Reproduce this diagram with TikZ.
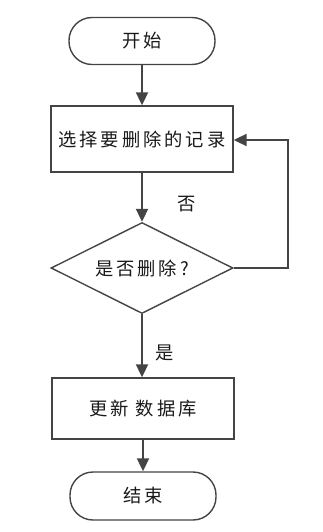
\documentclass[tikz,border=0pt]{standalone}
\usepackage{fontspec}
\usetikzlibrary{arrows.meta,shapes.geometric}
\newfontfamily\cjk[LetterSpace=16]{Noto Sans CJK SC}
\definecolor{lc}{HTML}{444444}
\begin{document}
\begin{tikzpicture}[x=1pt,y=-1pt,
  box/.style={draw=lc,line width=1.4pt,minimum width=182pt,minimum height=65pt,inner sep=0pt},
  term/.style={draw=lc,line width=1.4pt,rounded corners=23pt,minimum width=146pt,minimum height=47pt,inner sep=0pt},
  dia/.style={draw=lc,line width=1.4pt,diamond,aspect=2,minimum width=182pt,minimum height=91pt,inner sep=0pt},
  txt/.style={font=\cjk\fontsize{18.3}{20}\selectfont,text=black!90},
  arr/.style={draw=lc,line width=2pt,-{Triangle[length=13pt,width=12pt]}},
  lbl/.style={font=\cjk\fontsize{18.3}{20}\selectfont,text=black!90}]
\useasboundingbox (0,0) rectangle (322,532);
\node[term,txt] (start) at (142,41) {开始};
\node[box,txt,minimum height=66pt] (sel) at (142,139) {选择要删除的记录};
\node[dia,txt] (dec) at (142,268) {是否删除?};
\node[box,txt,minimum height=61pt] (upd) at (143,408.5) {更新 数据库};
\node[term,txt,minimum height=48pt] (end) at (143,496) {结束};
\coordinate (c1) at (288,268);
\coordinate (c2) at (288,140);
\draw[arr] (start.south) -- (sel.north);
\draw[arr] (sel.south) -- (dec.north);
\draw[arr] (dec.south) -- (upd.north -| dec.south);
\draw[arr] (upd.south) -- (end.north);
\draw[arr] (dec.east) -- (c1) -- (c2) -- (c2 -| sel.east);
\node[lbl] (no) at (187,204) {否};
\node[lbl] (yes) at (165,353) {是};
\end{tikzpicture}
\end{document}
